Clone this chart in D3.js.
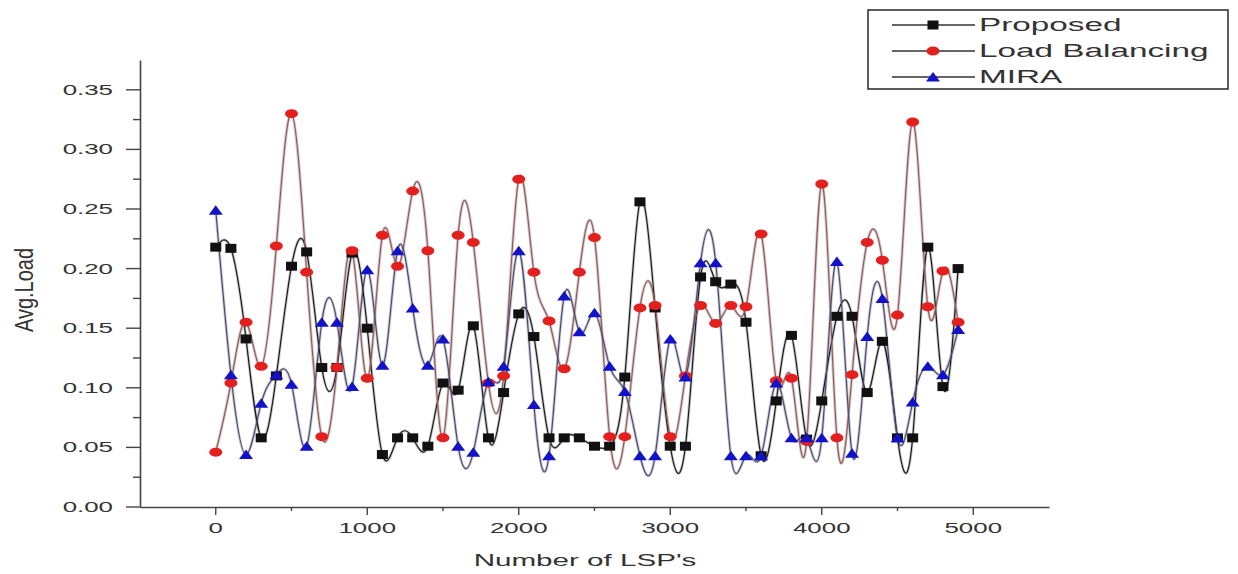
<!DOCTYPE html>
<html>
<head>
<meta charset="utf-8">
<script src="https://cdn.jsdelivr.net/npm/d3@7"></script>
<style>
  html, body { margin: 0; padding: 0; background: #fff; }
  svg { display: block; }
  text { font-family: "Liberation Sans", Arial, sans-serif; fill: #333; }
</style>
</head>
<body>
<svg id="chart" width="1238" height="574"></svg>
<script>
// ---- data ----
const lspCounts = d3.range(0, 5000, 100);
const proposed = [0.218,0.217,0.141,0.058,0.110,0.202,0.214,0.117,0.117,0.213,
                  0.150,0.044,0.058,0.058,0.051,0.104,0.098,0.152,0.058,0.096,
                  0.162,0.143,0.058,0.058,0.058,0.051,0.051,0.109,0.256,0.167,
                  0.051,0.051,0.193,0.189,0.187,0.155,0.043,0.089,0.144,0.057,
                  0.089,0.160,0.160,0.096,0.139,0.058,0.058,0.218,0.101,0.200];
const loadBalancing = [0.046,0.104,0.155,0.118,0.219,0.330,0.197,0.059,0.117,0.215,
                  0.108,0.228,0.202,0.265,0.215,0.058,0.228,0.222,0.104,0.110,
                  0.275,0.197,0.156,0.116,0.197,0.226,0.059,0.059,0.167,0.169,
                  0.059,0.110,0.169,0.154,0.169,0.168,0.229,0.106,0.108,0.055,
                  0.271,0.058,0.111,0.222,0.207,0.161,0.323,0.168,0.198,0.155];
const mira = [0.249,0.111,0.044,0.087,0.111,0.103,0.051,0.155,0.155,0.101,
              0.199,0.119,0.215,0.167,0.119,0.141,0.051,0.046,0.105,0.118,
              0.215,0.086,0.043,0.177,0.147,0.163,0.118,0.097,0.043,0.043,
              0.141,0.109,0.205,0.205,0.043,0.043,0.043,0.104,0.058,0.058,
              0.058,0.206,0.045,0.143,0.175,0.058,0.088,0.118,0.111,0.149];
const seriesNames = ["Proposed", "Load Balancing", "MIRA"];
const xTicks = [0, 1000, 2000, 3000, 4000, 5000];
const xMinorTicks = [500, 1500, 2500, 3500, 4500];
const yTicks = [0.00, 0.05, 0.10, 0.15, 0.20, 0.25, 0.30, 0.35];
const yMinorTicks = [0.025, 0.075, 0.125, 0.175, 0.225, 0.275, 0.325];
const xTitle = "Number of LSP's";
const yTitle = "Avg.Load";

// ---- layout ----
const SX = 1.85; // horizontal stretch of text seen in the reference
const svg = d3.select("#chart");
const x = d3.scaleLinear().domain([-500, 5500]).range([140, 1049]);
const y = d3.scaleLinear().domain([0, 0.375]).range([507, 60]);

const styles = [
  { data: proposed, line: "#1a1a1a", fill: "#111111", shape: "square" },
  { data: loadBalancing, line: "#9a5858", fill: "#e3201e", shape: "circle" },
  { data: mira, line: "#4a4a78", fill: "#1212c8", shape: "triangle" }
];

function stretchedText(g, px, py, str, size, anchor) {
  return g.append("g").attr("transform", `translate(${px},${py}) scale(${SX},1)`)
    .append("text").attr("font-size", size).attr("text-anchor", anchor).text(str);
}

// axes
const axG = svg.append("g");
const yAxis = d3.axisLeft(y).tickValues(yTicks).tickSize(0).tickFormat(() => "");
axG.append("g").attr("transform", `translate(${x(-500)},0)`).call(yAxis)
  .call(g => g.select(".domain").attr("stroke", "#444").attr("stroke-width", 1.6));
axG.append("g").selectAll("line").data(yTicks).join("line")
  .attr("x1", x(-500) - 14).attr("x2", x(-500)).attr("y1", d => y(d)).attr("y2", d => y(d))
  .attr("stroke", "#444").attr("stroke-width", 1.4);
axG.append("g").selectAll("line").data(yMinorTicks).join("line")
  .attr("x1", x(-500) - 7).attr("x2", x(-500)).attr("y1", d => y(d)).attr("y2", d => y(d))
  .attr("stroke", "#444").attr("stroke-width", 1.4);
yTicks.forEach(v => stretchedText(axG, 113, y(v) + 5, d3.format(".2f")(v), 14, "end"));

const xAxis = d3.axisBottom(x).tickValues([]).tickSize(0);
axG.append("g").attr("transform", `translate(0,${y(0)})`).call(xAxis)
  .call(g => g.select(".domain").attr("stroke", "#444").attr("stroke-width", 1.6));
axG.append("g").selectAll("line").data(xTicks).join("line")
  .attr("x1", d => x(d)).attr("x2", d => x(d)).attr("y1", y(0)).attr("y2", y(0) + 8)
  .attr("stroke", "#444").attr("stroke-width", 1.4);
axG.append("g").selectAll("line").data(xMinorTicks).join("line")
  .attr("x1", d => x(d)).attr("x2", d => x(d)).attr("y1", y(0)).attr("y2", y(0) + 4)
  .attr("stroke", "#444").attr("stroke-width", 1.4);
xTicks.forEach(v => stretchedText(axG, x(v), 533, String(v), 14, "middle"));

// titles
stretchedText(svg, 585, 566, xTitle, 16, "middle");
svg.append("g").attr("transform", `translate(33,290) scale(1.25,1) rotate(-90)`)
  .append("text").attr("font-size", 20).attr("text-anchor", "middle").text(yTitle);

// lines
const line = d3.line().x((d, i) => x(lspCounts[i])).y(d => y(d)).curve(d3.curveNatural);
const linesG = svg.append("g").attr("fill", "none");
styles.forEach(s => {
  linesG.append("path").attr("d", line(s.data)).attr("stroke", "#a8a8a8")
    .attr("stroke-width", 3).attr("stroke-opacity", 0.55);
});
styles.forEach(s => {
  linesG.append("path").attr("d", line(s.data)).attr("stroke", s.line).attr("stroke-width", 1.2);
});

// markers
function drawMarker(g, shape, cx, cy, fill) {
  if (shape === "square") {
    g.append("rect").attr("x", cx - 5.5).attr("y", cy - 4.5).attr("width", 11).attr("height", 9).attr("fill", fill);
  } else if (shape === "circle") {
    g.append("ellipse").attr("cx", cx).attr("cy", cy).attr("rx", 6.5).attr("ry", 4.5).attr("fill", fill);
  } else {
    g.append("path").attr("d", `M${cx - 7},${cy + 4.5}L${cx + 7},${cy + 4.5}L${cx},${cy - 5}Z`).attr("fill", fill);
  }
}
const markG = svg.append("g");
styles.forEach(s => {
  s.data.forEach((v, i) => drawMarker(markG, s.shape, x(lspCounts[i]), y(v), s.fill));
});

// legend
const lg = svg.append("g");
lg.append("rect").attr("x", 868).attr("y", 10).attr("width", 360).attr("height", 79)
  .attr("fill", "#fff").attr("stroke", "#333").attr("stroke-width", 1.6);
const rowsY = [25, 51, 77];
styles.forEach((s, i) => {
  lg.append("line").attr("x1", 892).attr("x2", 975).attr("y1", rowsY[i]).attr("y2", rowsY[i])
    .attr("stroke", "#333").attr("stroke-width", 1.3);
  drawMarker(lg, s.shape, 933, rowsY[i], s.fill);
  stretchedText(lg, 979, rowsY[i] + 6, seriesNames[i], 18, "start");
});
</script>
</body>
</html>
